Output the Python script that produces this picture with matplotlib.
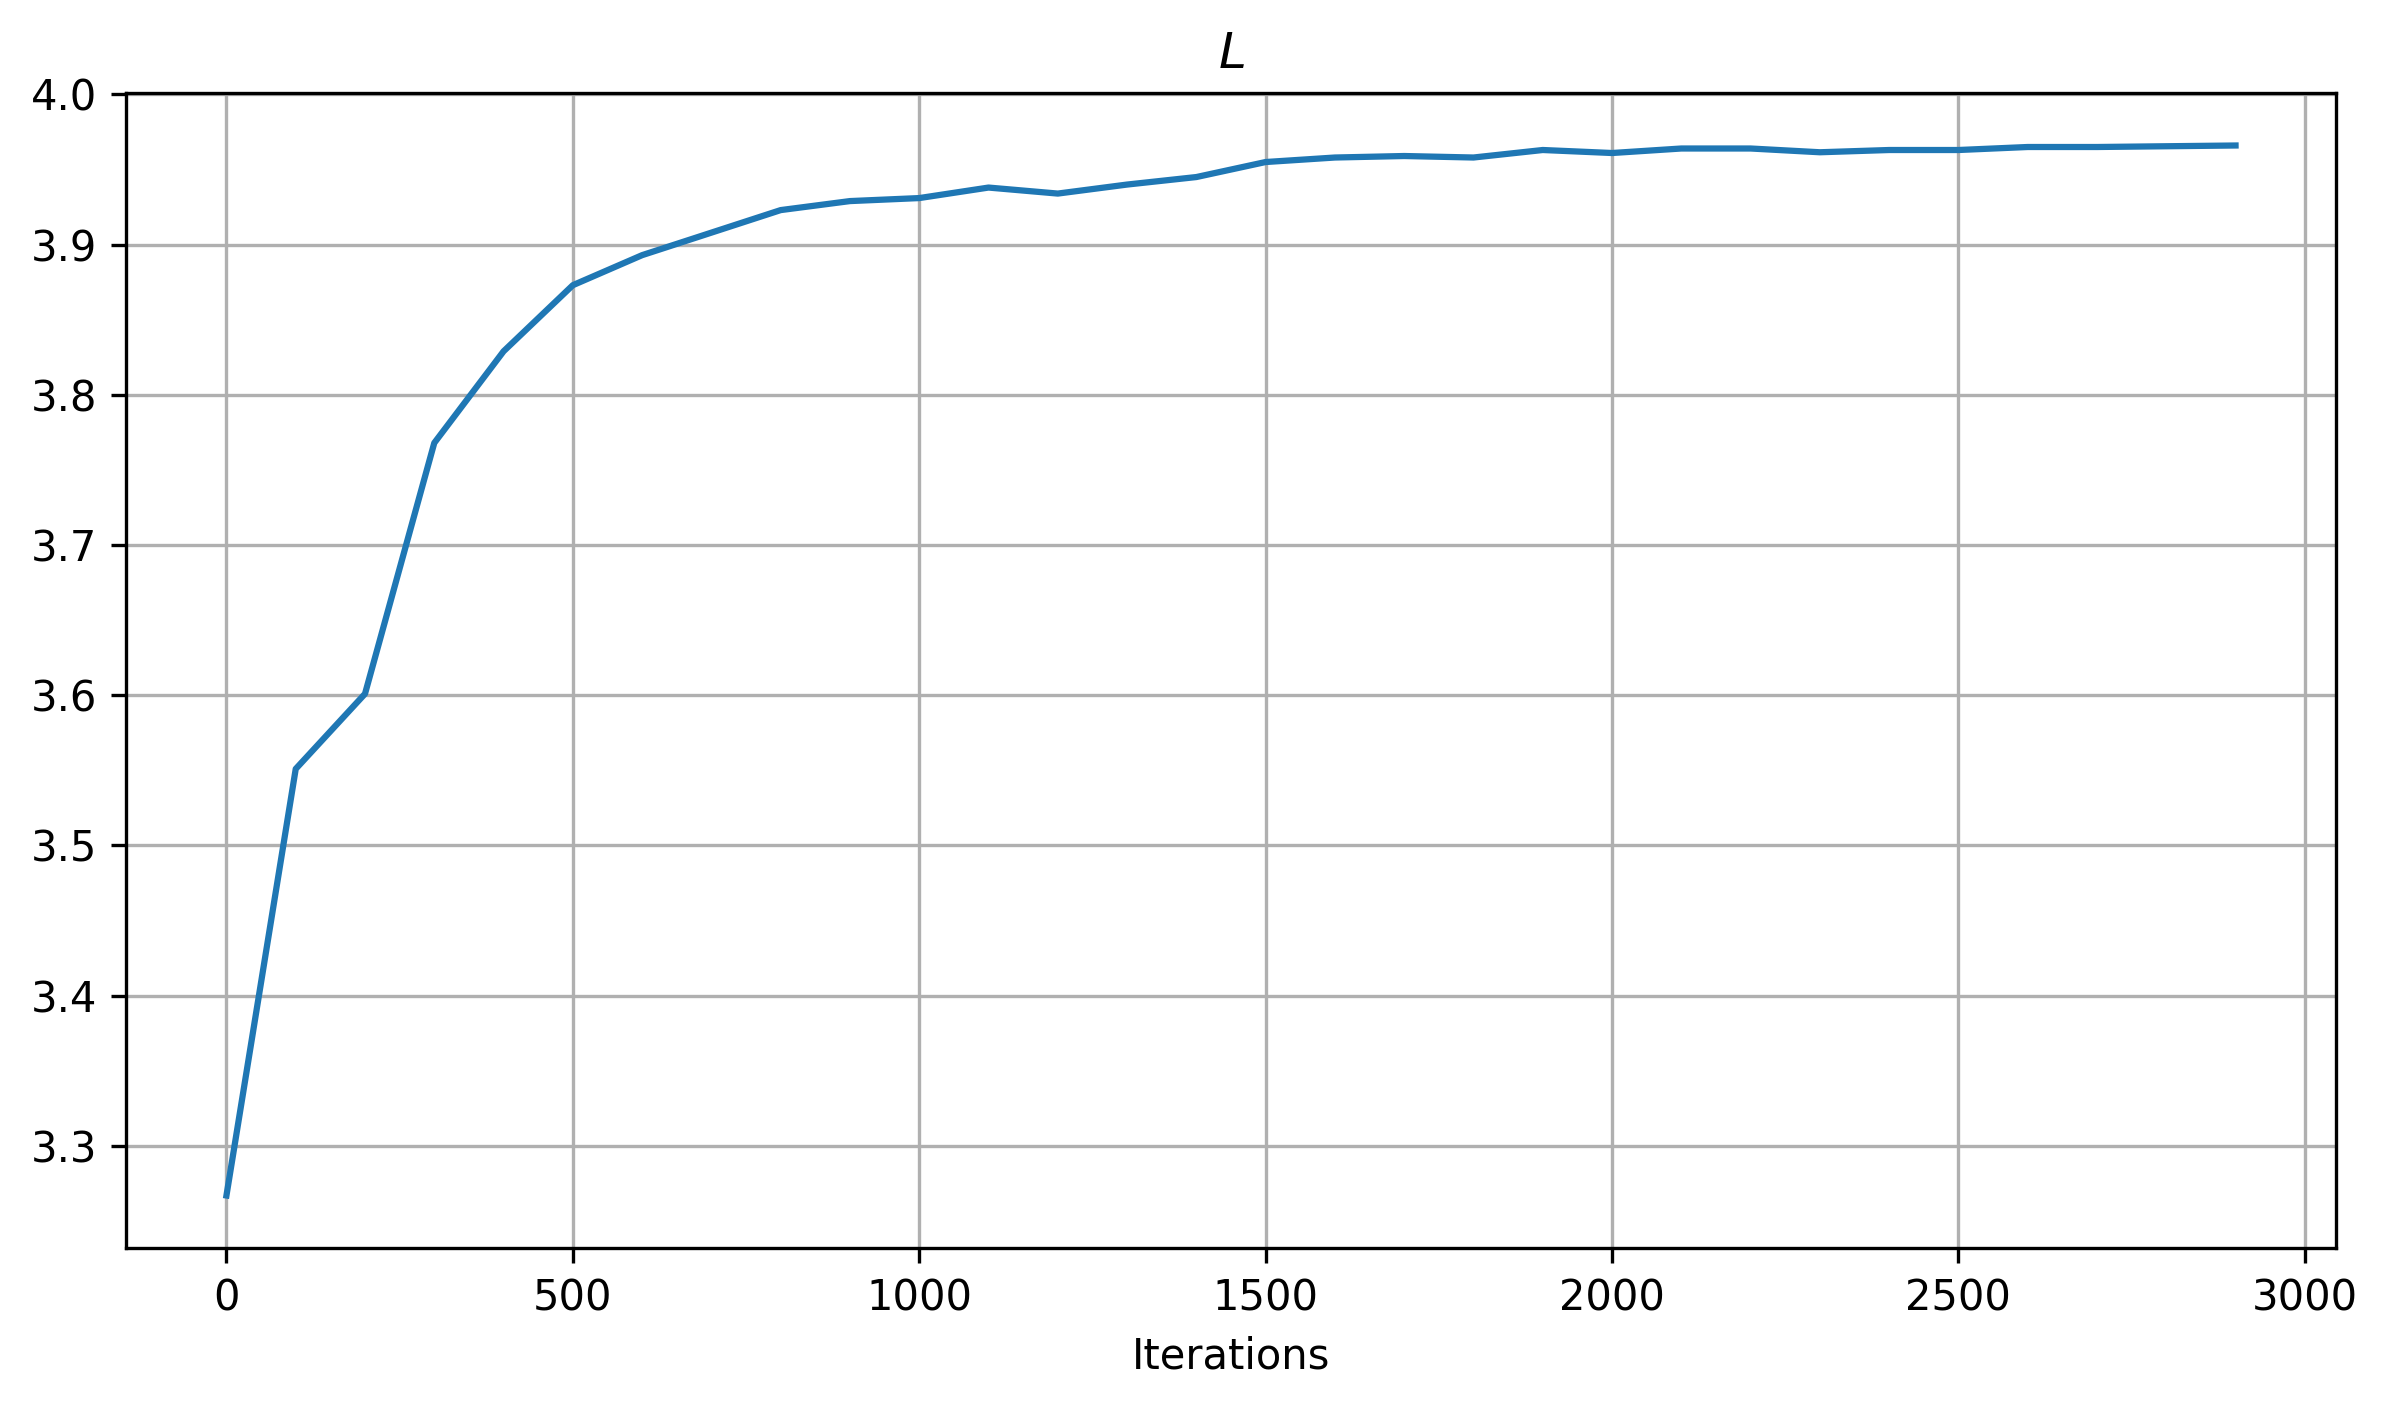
import matplotlib
matplotlib.use("Agg")
import matplotlib.pyplot as plt
import numpy as np

iterations = list(range(0, 3000, 100))
L_values = [3.267, 3.551, 3.601, 3.768, 3.829, 3.873, 3.893, 3.908, 3.923, 3.929,
            3.931, 3.938, 3.934, 3.940, 3.945, 3.955, 3.958, 3.959, 3.958, 3.963,
            3.961, 3.964, 3.964, 3.9615, 3.963, 3.963, 3.965, 3.965, 3.9655, 3.966]

fig, ax = plt.subplots(figsize=(2386/300, 1407/300), dpi=300)
fig.subplots_adjust(left=126/2386, right=2336/2386, top=1-93/1407, bottom=1-1248/1407)
ax.plot(iterations, L_values, color="#1f77b4")
ax.set_title("$L$")
ax.set_xlabel("Iterations")
ax.grid(True)
fig.savefig("out.png", dpi=300)
